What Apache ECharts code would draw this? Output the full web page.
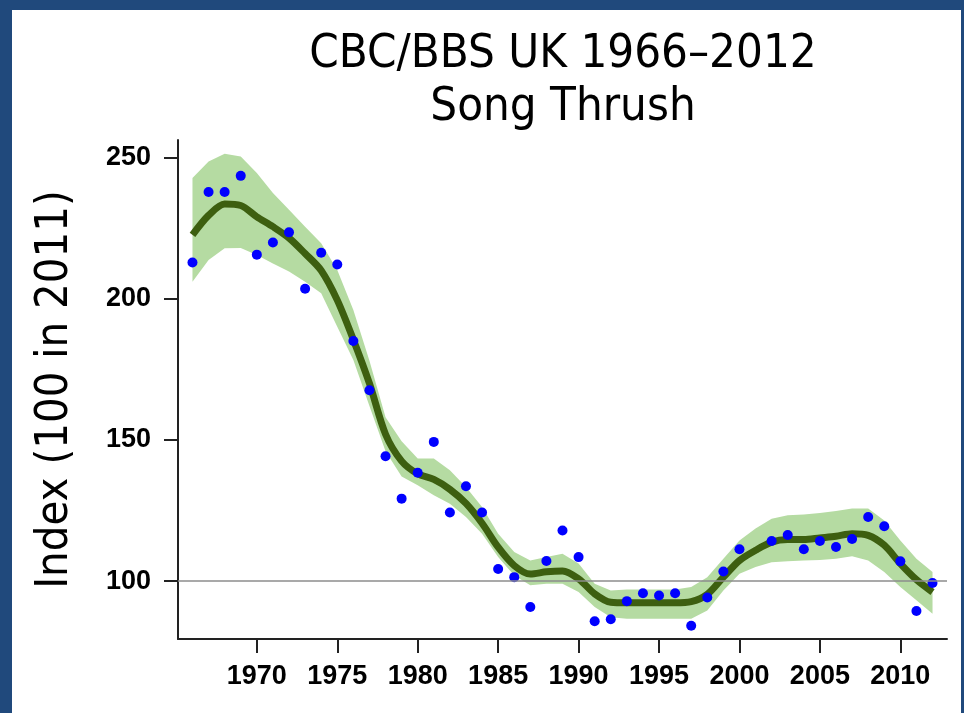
<!DOCTYPE html>
<html><head><meta charset="utf-8">
<script src="https://cdn.jsdelivr.net/npm/echarts@6/dist/echarts.min.js"></script>
<style>html,body{margin:0;padding:0;}#c{width:964px;height:713px;}</style>
</head><body><div id="c"></div>
<script>
const years = [1966,1967,1968,1969,1970,1971,1972,1973,1974,1975,1976,1977,1978,1979,1980,1981,1982,1983,1984,1985,1986,1987,1988,1989,1990,1991,1992,1993,1994,1995,1996,1997,1998,1999,2000,2001,2002,2003,2004,2005,2006,2007,2008,2009,2010,2011,2012];
const indexValues = [212.8,237.8,237.8,243.5,215.6,219.9,223.5,203.5,216.3,212.1,185.0,167.6,144.2,129.2,138.4,149.3,124.3,133.6,124.3,104.3,101.4,90.8,107.1,117.9,108.5,85.8,86.5,92.9,95.7,94.9,95.7,84.2,94.2,103.4,111.3,null,114.2,116.3,111.3,114.2,112.1,114.9,122.7,119.4,107.0,89.4,99.3];
const trend = [222.6,229.5,233.5,233.0,229.0,225.5,221.5,216.0,210.0,199.5,185.5,170.0,152.0,142.5,138.0,136.0,132.5,127.5,120.5,112.0,105.5,102.5,103.3,103.6,100.8,95.5,92.5,92.3,92.3,92.3,92.3,92.7,95.3,101.4,107.3,110.9,113.8,114.7,114.7,115.3,115.9,116.8,116.2,112.7,106.2,100.5,96.1];
const upper = [242.7,248.6,251.3,250.4,244.5,237.4,231.5,225.5,219.6,210.2,196.0,178.0,158.0,149.5,143.4,143.4,139.3,133.3,126.2,116.8,110.3,107.3,108.5,109.7,106.2,99.1,96.7,97.0,97.0,97.0,97.0,97.9,101.4,107.9,114.4,118.6,122.1,123.3,123.6,124.1,124.8,125.7,125.7,121.5,114.4,107.9,103.2];
const lower = [206.0,213.7,217.9,218.0,215.5,212.5,209.6,206.0,201.9,190.1,178.3,162.0,146.0,137.0,133.9,130.4,127.4,122.7,116.8,108.5,102.0,98.5,99.1,99.1,96.1,90.8,87.2,86.7,86.7,86.7,86.7,86.7,89.6,96.7,102.6,105.0,106.7,107.0,107.3,107.5,107.9,108.8,107.3,103.2,97.9,93.2,88.4];
const xTicks = [1970,1975,1980,1985,1990,1995,2000,2005,2010];
const yTicks = [100,150,200,250];
const refValue = 100;

const chart = echarts.init(document.getElementById('c'), null, {renderer:'canvas'});
const pair = (arr) => years.map((y,i) => [y, arr[i]]);
const bandData = years.map((y,i) => [y, lower[i], upper[i]]);
const labelFont = {fontFamily:'Liberation Sans, Arial, sans-serif', fontWeight:'bold', fontSize:27, color:'#000'};
const textFont = 'DejaVu Sans Condensed, DejaVu Sans';
chart.setOption({
  animation:false,
  backgroundColor:'#20497c',
  graphic:[{type:'rect', shape:{x:12,y:10,width:949,height:703}, style:{fill:'#ffffff'}, z:-10, silent:true}],
  title:{
    text:'CBC/BBS UK 1966\u20132012\nSong Thrush',
    left:558, top:23, textAlign:'center',
    textStyle:{fontFamily:textFont, fontWeight:'normal', fontSize:47, lineHeight:53, color:'#000'}
  },
  grid:{left:178, top:140, right:17, bottom:74, containLabel:false},
  xAxis:{
    type:'value', min:1965.1, max:2012.9,
    splitLine:{show:false},
    axisLine:{show:true, lineStyle:{color:'#222', width:2}},
    axisTick:{show:true, inside:false, length:14, lineStyle:{color:'#222', width:2}, customValues:xTicks},
    axisLabel:Object.assign({margin:24, customValues:xTicks, formatter:(v)=>String(v)}, labelFont)
  },
  yAxis:{
    type:'value', min:79.5, max:256.2,
    splitLine:{show:false},
    axisLine:{show:true, lineStyle:{color:'#222', width:2}},
    axisTick:{show:true, inside:false, length:14, lineStyle:{color:'#222', width:2}, customValues:yTicks},
    axisLabel:Object.assign({margin:27, customValues:yTicks}, labelFont),
    name:'Index (100 in 2011)', nameLocation:'middle', nameGap:100, nameRotate:90,
    nameTextStyle:{fontFamily:textFont, fontSize:45, color:'#000'}
  },
  series:[
    {type:'custom', data:bandData, encode:{x:0, y:[1,2]}, silent:true, z:1,
     renderItem:(params, api) => {
       if (params.dataIndex !== 0) return null;
       const pts = [];
       for (let i = 0; i < years.length; i++) pts.push(api.coord([years[i], upper[i]]));
       for (let i = years.length - 1; i >= 0; i--) pts.push(api.coord([years[i], lower[i]]));
       return {type:'polygon', shape:{points:pts}, style:{fill:'#b5dba2'}};
     }},
    {type:'line', data:[], z:2, markLine:{silent:true, symbol:'none', label:{show:false},
      lineStyle:{color:'#8c8c8c', width:1.5, type:'solid'}, data:[{yAxis:refValue}]}},
    {type:'line', data:pair(trend), smooth:0.3, symbol:'none', lineStyle:{color:'#3d5f10', width:7}, z:3},
    {type:'scatter', data:pair(indexValues).filter(d=>d[1]!==null), symbol:'circle', symbolSize:10, itemStyle:{color:'#0000ff', opacity:1}, z:4}
  ]
});
</script></body></html>
